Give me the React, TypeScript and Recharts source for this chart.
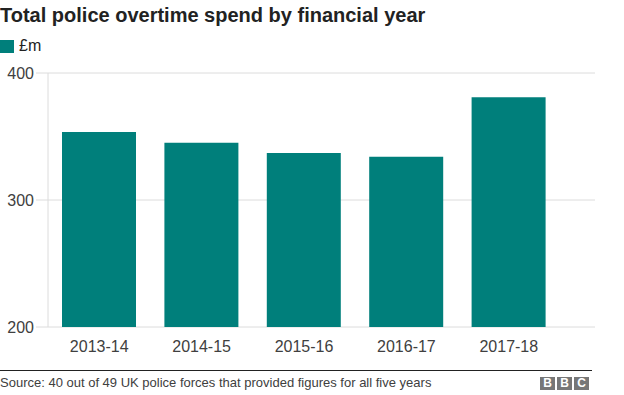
import React from 'react';
import { Bar, BarChart, CartesianGrid, XAxis, YAxis } from 'recharts';

const years = ['2013-14', '2014-15', '2015-16', '2016-17', '2017-18'];
const spend = [353.5, 345, 337, 334, 381];
const yTicks = [200, 300, 400];

const data = years.map((year, i) => ({ year, spend: spend[i] }));

const FONT = '"Liberation Sans", Arial, Helvetica, sans-serif';
const TEAL = '#007f7b';

export default function App() {
  return (
    <div
      style={{
        position: 'absolute',
        left: 0,
        top: 0,
        width: 624,
        height: 395,
        background: '#fff',
        fontFamily: FONT,
        overflow: 'hidden',
      }}
    >
      <div style={{ position: 'absolute', left: 0, top: 4, fontSize: 20, fontWeight: 700, color: '#222', whiteSpace: 'nowrap' }}>
        Total police overtime spend by financial year
      </div>
      <div style={{ position: 'absolute', left: 0, top: 40, width: 14, height: 13, background: TEAL }} />
      <div style={{ position: 'absolute', left: 19, top: 37, fontSize: 16, color: '#222' }}>£m</div>

      <div style={{ position: 'absolute', left: 0, top: 0 }}>
        <BarChart width={624} height={395} data={data} margin={{ top: 73, right: 29, left: 0, bottom: 38 }}>
          <CartesianGrid stroke="#dcdcdc" vertical={false} />
          <XAxis
            dataKey="year"
            height={30}
            axisLine={false}
            tickLine={false}
            tickMargin={8}
            padding={{ left: 0, right: 35 }}
            tick={{ fontSize: 16, fill: '#404040', fontFamily: FONT }}
          />
          <YAxis
            width={48}
            domain={[200, 400]}
            ticks={yTicks}
            allowDataOverflow
            axisLine={{ stroke: '#dcdcdc' }}
            tickLine={{ stroke: '#dcdcdc' }}
            tickSize={12}
            tickMargin={2}
            tick={{ fontSize: 16, fill: '#404040', fontFamily: FONT }}
          />
          <Bar dataKey="spend" fill={TEAL} barSize={74} isAnimationActive={false} />
        </BarChart>
      </div>

      <div style={{ position: 'absolute', left: 0, top: 370, width: 592, height: 1, background: '#222' }} />
      <div style={{ position: 'absolute', left: 0, top: 375, fontSize: 13, color: '#404040', whiteSpace: 'nowrap' }}>
        Source: 40 out of 49 UK police forces that provided figures for all five years
      </div>
      <div style={{ position: 'absolute', left: 540, top: 377, display: 'flex', gap: 2 }}>
        {['B', 'B', 'C'].map((ch, i) => (
          <div
            key={i}
            style={{
              width: 15,
              height: 13,
              background: '#777',
              color: '#fff',
              fontSize: 12,
              fontWeight: 700,
              lineHeight: '13px',
              textAlign: 'center',
            }}
          >
            {ch}
          </div>
        ))}
      </div>
    </div>
  );
}
